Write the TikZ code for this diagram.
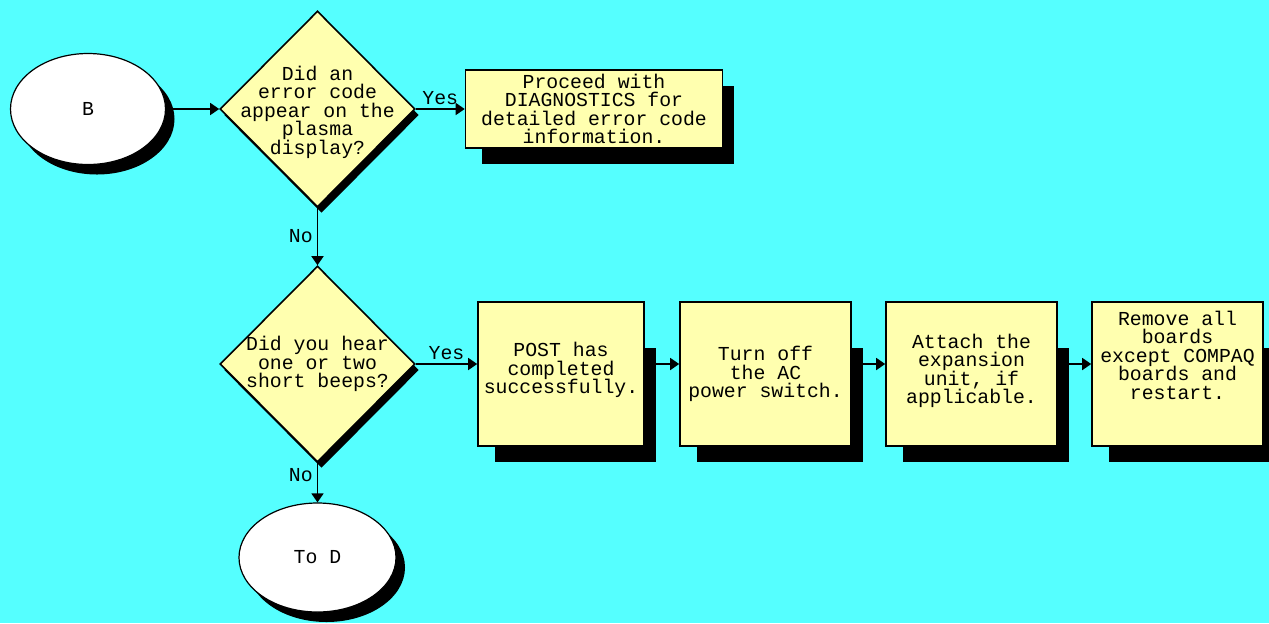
\documentclass[tikz,border=0pt]{standalone}
\usepackage{fontspec}
\usepackage{tikz}
\usetikzlibrary{arrows.meta,shapes.geometric,shadows,calc}
\newfontfamily\dosfont{Liberation Mono}
\definecolor{chartCyan}{RGB}{85,255,255}
\definecolor{chartYellow}{RGB}{255,255,175}
\pgfdeclarelayer{bg}
\pgfdeclarelayer{shade}
\pgfsetlayers{bg,shade,main}
\tikzset{
  flowtext/.style={font=\dosfont\fontsize{9.9pt}{9.25pt}\selectfont, align=center},
  terminal/.style={ellipse, draw=black, line width=0.6pt, fill=white, inner sep=0pt, flowtext,
    drop shadow={shadow xshift=4.5pt, shadow yshift=-5pt, fill=black, opacity=1}},
  decision/.style={diamond, draw=black, line width=0.8pt, fill=chartYellow, inner sep=0pt,
    minimum width=97.5pt, minimum height=98pt,
    drop shadow={shadow xshift=2pt, shadow yshift=-3pt, fill=black, opacity=1}},
  stepbox/.style={rectangle, draw=black, line width=0.8pt, fill=chartYellow, inner sep=0pt,
    flowtext, minimum width=85.5pt, minimum height=72pt},
  flow/.style={black, line width=0.8pt, -{Triangle[length=4.5pt,width=6pt]}},
  answer/.style={flowtext, inner sep=2pt},
}

\begin{document}
\begin{tikzpicture}[x=0.5pt,y=-0.5pt]
\useasboundingbox (0,0) rectangle (1269,623);
\begin{pgfonlayer}{bg}
  \fill[chartCyan] (0,0) rectangle (1269,623);
\end{pgfonlayer}

% first question
\node[terminal, minimum width=77.5pt, minimum height=55.5pt] (B) at (88,109) {B};
\node[decision, label={[flowtext, yshift=-1.5pt]center:{Did an\\error code\\appear on the\\plasma\\display?}}] (q1) at (317.5,109) {};
\node[stepbox, minimum width=128.5pt, minimum height=39pt] (diag) at (594,109)
  {Proceed with\\DIAGNOSTICS for\\detailed error code\\information.};

% second question
\node[decision, label={[flowtext]center:{Did you hear\\one or two\\short beeps?}}] (q2) at (317.5,364) {};
\node[stepbox, minimum width=83pt, text depth=6pt] (post) at (561,374) {POST has\\completed\\successfully.};
\node[stepbox] (off) at (765.5,374) {Turn off\\the AC\\power switch.};
\node[stepbox, text depth=5pt] (att) at (971.5,374) {Attach the\\expansion\\unit, if\\applicable.};
\node[stepbox, text depth=19pt] (rem) at (1177.5,374) {Remove all\\boards\\except COMPAQ\\boards and\\restart.};
\node[terminal, minimum width=78.5pt, minimum height=54.5pt] (toD) at (317.5,557.5) {To D};

\begin{pgfonlayer}{shade}
  \fill[black] ($(diag.south west)+(17,15)$) rectangle ($(diag.north east)+(11,17)$);
  \foreach \b in {post,off,att,rem}
    \fill[black] ($(\b.south west)+(18,15)$) rectangle ($(\b.north east)+(11,47)$);
\end{pgfonlayer}

\draw[flow] (B) -- (q1);
\draw[flow] (q1) -- node[answer, above] {Yes} (diag);
\draw[flow] (q1) -- node[answer, left] {No} (q2);
\draw[flow] (q2.east) -- node[answer, above] {Yes} (q2.east -| post.west);
\draw[flow] (post.east |- q2.east) -- (off.west |- q2.east);
\draw[flow] (off.east |- q2.east) -- (att.west |- q2.east);
\draw[flow] (att.east |- q2.east) -- (rem.west |- q2.east);
\draw[flow] (q2) -- node[answer, left, pos=0.32] {No} (toD);
\end{tikzpicture}
\end{document}
